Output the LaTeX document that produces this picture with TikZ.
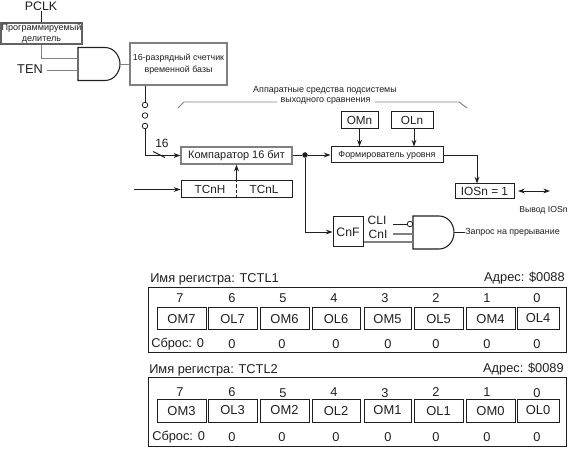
\documentclass[tikz,border=0pt]{standalone}
\usepackage{fontspec}
\setmainfont{Liberation Sans}
\usetikzlibrary{arrows.meta}
\newcommand{\fs}[1]{\fontsize{#1}{#1}\selectfont}
\newcommand{\up}[1]{\raisebox{0.8pt}{#1}}
\definecolor{ink}{gray}{0.12}
\definecolor{soft}{gray}{0.5}
\tikzset{
  bx/.style n args={2}{draw=ink,line width=0.75pt,inner sep=0pt,align=center,text=ink,minimum width=#1*0.75pt,minimum height=#2*0.75pt},
  softbx/.style={draw=soft,line width=1pt},
  wire/.style={draw=ink,line width=0.7pt},
  softwire/.style={draw=soft,line width=1pt},
  arr/.style={wire,-{Stealth[length=5pt,width=3.6pt]}},
  arrs/.style={wire,{Stealth[length=5pt,width=3.6pt]}-{Stealth[length=5pt,width=3.6pt]}},
  txt/.style={inner sep=0pt,text=ink},
  big/.style={font=\fs{8.8}},
  sml/.style={font=\fs{6.7}},
  regtxt/.style={font=\fs{9.6}},
  cell/.style={bx={#1}{22},font=\fs{9.7}},
  ring/.style={circle,draw=ink,line width=0.6pt,minimum size=5.5*0.75pt,inner sep=0pt},
}
\begin{document}
\begin{tikzpicture}[x=0.75pt,y=-0.75pt]
\useasboundingbox (0,0) rectangle (572,449);
% top left
\node[txt,font=\fs{9.3}] (pclk) at (41,6.5) {PCLK};
\node[bx={81}{21},softbx,font=\fs{6.8},draw=ink!70] (div) at (41.5,33.5) {Программируемый\\[1pt]делитель};
\node[txt,font=\fs{9.6}] (ten) at (30,69.5) {TEN};
\node[bx={97}{42},softbx,font=\fs{6.65}] (cnt) at (178.5,64) {16-разрядный счетчик\\[2.5pt]временной базы};
\draw[wire] (pclk.south -| div.north) -- (div.north);
\coordinate (g1a) at (78,58);
\coordinate (g1b) at (78,70);
\coordinate (g1o) at (120,64);
\draw[wire,line width=0.8pt] (78,47.5) -- (105,47.5) .. controls (114,47.5) and (120,56) .. (g1o) .. controls (120,72) and (114,80.5) .. (105,80.5) -- (78,80.5) -- cycle;
\draw[wire,draw=soft] (div.south) -- (div.south |- g1a) -- (g1a);
\draw[wire,draw=soft] (47,70) -- (g1b);
\draw[wire,draw=soft] (g1o) -- (cnt.west |- g1o);
\node[ring] (c1) at (145,105) {};
\node[ring] (c2) at (145,115.5) {};
\node[ring] (c3) at (145,126) {};
\draw[wire] (c1.north |- cnt.south) -- (c1.north);
% comparator block
\node[bx={111}{17},softbx,font=\fs{8.2}] (cmp) at (236.5,155.5) {Компаратор 16 бит};
\node[bx={111}{17}] (tc) at (236.5,189.5) {};
\node[txt,big] (tch) at (210,189.5) {TCnH};
\node[txt,big] (tcl) at (264,189.5) {TCnL};
\draw[wire,dash pattern=on 2.5pt off 1.5pt] (tc.south) -- (tc.north);
\draw[arr] (tc.north) -- (cmp.south);
\coordinate (tin) at (134,189.5);
\draw[arr] (tin) -- (tc.west);
\draw[arr] (c3.south) -- (c3.south |- cmp.west) -- (cmp.west);
\coordinate (sl1) at (153,151.5);
\coordinate (sl2) at (165,157.5);
\draw[wire] (sl1) -- (sl2);
\node[txt,font=\fs{9}] (n16) at (162,143) {16};
% bracket
\coordinate (bl) at (178,108);
\coordinate (br) at (467,108);
\node[txt,sml] (hw1) at (325,90) {Аппаратные средства подсистемы};
\node[txt,sml] (hw2) at (325.5,101) {выходного сравнения};
\draw[wire,draw=soft] (bl) -- (184,102) -- (277,102);
\draw[wire,draw=soft] (375,102) -- (459,102) -- (br);
% right part
\node[bx={37}{17},big] (omn) at (359.5,120.5) {OMn};
\node[bx={42}{17},big] (oln) at (412,120.5) {OLn};
\node[bx={112}{16},sml] (frm) at (387,155) {Формирователь уровня};
\node[bx={59}{15},font=\fs{8.9}] (ios) at (484.5,191.5) {IOSn = 1};
\node[txt,font=\fs{6.5}] (iosp) at (543.5,210) {Вывод IOSn};
\node[bx={30}{30},font=\fs{9.2}] (cnf) at (348,232) {CnF};
\draw[arr] (omn.south) -- (omn.south |- frm.north);
\draw[arr] (oln.south -| 414,0) -- (frm.north -| 414,0);
\node[circle,inner sep=0pt,minimum size=5.5*0.75pt,fill=ink] (dot) at (305,155) {};
\draw[wire] (cmp.east |- dot) -- (dot);
\draw[arr] (dot) -- (frm.west);
\draw[arr] (dot) -- (dot |- cnf.west) -- (cnf.west);
\draw[arr] (frm.east) -- (477,155) -- (ios.north -| 477,0);
\coordinate (d1) at (518,191);
\coordinate (d2) at (550,191);
\draw[arrs] (d1) -- (d2);
% and gate 2
\node[txt,font=\fs{9}] (cli) at (377,220) {CLI};
\node[txt,font=\fs{9}] (cnl) at (378,234) {CnI};
\node[ring] (bub) at (410,224) {};
\coordinate (g2o) at (454,232.5);
\draw[wire,line width=0.8pt] (413,216) -- (439,216) .. controls (448,216) and (454,224) .. (g2o) .. controls (454,241) and (448,249) .. (439,249) -- (413,249) -- cycle;
\draw[wire] (393,224) -- (bub);
\draw[softwire] (393,234) -- (413,234);
\draw[softwire] (cnf.east |- 0,242) -- (413,242);
\node[txt,font=\fs{6.65},anchor=west] (irq) at (465,232.5) {Запрос на прерывание};
\draw[wire] (g2o) -- (irq.west);
% registers
\node[txt,regtxt,anchor=west] (t1) at (150,279) {Имя регистра: TCTL1};
\node[txt,regtxt,anchor=east] (a1) at (565,278) {Адрес: \$0088};
\node[draw=ink,line width=0.75pt,inner sep=0pt,minimum width=418*0.75pt,minimum height=65*0.75pt] (r1) at (357,320.5) {};
\node[txt,regtxt,anchor=west] (t2) at (149,370) {Имя регистра: TCTL2};
\node[txt,regtxt,anchor=east] (a2) at (564,369) {Адрес: \$0089};
\node[draw=ink,line width=0.75pt,inner sep=0pt,minimum width=418*0.75pt,minimum height=68*0.75pt] (r2) at (357,412) {};
\foreach \n/\x/\xx/\lab/\la/\lb/\ny in {7/157/206/180/OM7/OM3/392,6/208/257/232/OL7/\up{OL3}/392,5/260/309/283/OM6/\up{OM2}/393,4/312/360/334/OL6/OL2/392,3/364/411/385/OM5/\up{OM1}/393,2/414/463/436/OL5/OL1/392,1/466/515/487/OM4/OM0/392,0/517/559/537/\up{OL4}/\up{OL0}/393}{
  \pgfmathsetmacro{\w}{\xx-\x}
  \pgfmathsetmacro{\c}{(\xx+\x)/2}
  \node[txt,regtxt] (na\n) at (\lab,298) {\n};
  \node[cell=\w] (ca\n) at (\c,319) {\la};
  \node[txt,regtxt] (nb\n) at (\lab,\ny) {\n};
  \node[cell=\w] (cb\n) at (\c,411) {\lb};
}
\node[txt,regtxt,anchor=west] (s1) at (151,344) {Сброс: 0};
\node[txt,regtxt,anchor=west] (s2) at (152,437) {Сброс: 0};
\foreach \i/\x in {6/232,5/282,4/336,3/388,2/436,1/487,0/537}{
  \node[txt,regtxt] (za\i) at (\x,344) {0};
  \node[txt,regtxt] (zb\i) at (\x,437) {0};
}
\end{tikzpicture}
\end{document}
